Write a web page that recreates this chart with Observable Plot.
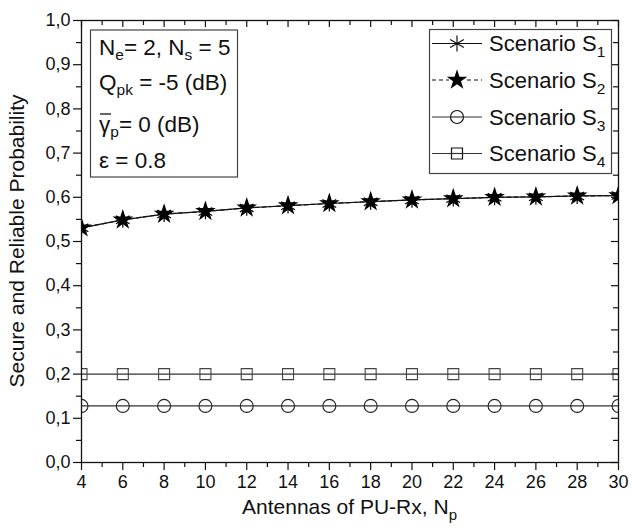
<!DOCTYPE html>
<html>
<head>
<meta charset="utf-8">
<script src="https://cdn.jsdelivr.net/npm/d3@7"></script>
<script src="https://cdn.jsdelivr.net/npm/@observablehq/plot@0.6"></script>
<style>
  html, body { margin: 0; padding: 0; background: #fff; }
  svg { font-family: "Liberation Sans", Arial, sans-serif; }
</style>
</head>
<body>
<div id="chart"></div>
<script>
// ---- data ----
const Np = [4, 6, 8, 10, 12, 14, 16, 18, 20, 22, 24, 26, 28, 30];
const scenarioS1 = [0.531, 0.549, 0.562, 0.568, 0.576, 0.581, 0.586, 0.590, 0.594, 0.597, 0.600, 0.601, 0.603, 0.604];
const scenarioS2 = [0.531, 0.549, 0.562, 0.568, 0.576, 0.581, 0.586, 0.590, 0.594, 0.597, 0.600, 0.601, 0.603, 0.604];
const scenarioS3 = [0.128, 0.128, 0.128, 0.128, 0.128, 0.128, 0.128, 0.128, 0.128, 0.128, 0.128, 0.128, 0.128, 0.128];
const scenarioS4 = [0.200, 0.200, 0.200, 0.200, 0.200, 0.200, 0.200, 0.200, 0.200, 0.200, 0.200, 0.200, 0.200, 0.200];
const xMajorTicks = [4, 6, 8, 10, 12, 14, 16, 18, 20, 22, 24, 26, 28, 30];
const xMinorTicks = [5, 7, 9, 11, 13, 15, 17, 19, 21, 23, 25, 27, 29];
const yMajorTicks = [0, 0.1, 0.2, 0.3, 0.4, 0.5, 0.6, 0.7, 0.8, 0.9, 1.0];
const yMinorTicks = [0.05, 0.15, 0.25, 0.35, 0.45, 0.55, 0.65, 0.75, 0.85, 0.95];
const legendNames = ["1", "2", "3", "4"];

const toRows = (vals) => Np.map((n, i) => ({x: n, y: vals[i]}));
const d1 = toRows(scenarioS1), d2 = toRows(scenarioS2), d3r = toRows(scenarioS3), d4 = toRows(scenarioS4);

const W = 632, H = 528;
const mL = 81, mR = 14, mT = 20, mB = 66;
const plotW = W - mL - mR, plotH = H - mT - mB;
const fmt = d => d.toFixed(1).replace(".", ",");

const chart = Plot.plot({
  width: W, height: H,
  marginLeft: mL, marginRight: mR, marginTop: mT, marginBottom: mB,
  style: {fontFamily: "Liberation Sans, Arial, sans-serif", background: "#fff", color: "#111"},
  x: {domain: [4, 30]},
  y: {domain: [0, 1]},
  marks: [
    Plot.axisX({ticks: xMajorTicks, tickSize: 8, tickPadding: 5, fontSize: 18, label: null, tickFormat: d => String(d), strokeWidth: 1.2}),
    Plot.axisX({ticks: xMinorTicks, tickSize: 5, label: null, tickFormat: () => "", strokeWidth: 1.2}),
    Plot.axisY({ticks: yMajorTicks, tickSize: 8, tickPadding: 3, fontSize: 18, label: null, tickFormat: fmt, strokeWidth: 1.2}),
    Plot.axisY({ticks: yMinorTicks, tickSize: 5, label: null, tickFormat: () => "", strokeWidth: 1.2}),
    // inward ticks on top and right
    Plot.tickX(xMajorTicks, {x: d => d, insetBottom: plotH - 7, stroke: "#111", strokeWidth: 1.2}),
    Plot.tickX(xMinorTicks, {x: d => d, insetBottom: plotH - 5, stroke: "#111", strokeWidth: 1.2}),
    Plot.tickY(yMajorTicks, {y: d => d, insetLeft: plotW - 7, stroke: "#111", strokeWidth: 1.2}),
    Plot.tickY(yMinorTicks, {y: d => d, insetLeft: plotW - 5, stroke: "#111", strokeWidth: 1.2}),
    // series
    Plot.line(d4, {x: "x", y: "y", stroke: "#333", strokeWidth: 1.2, clip: true}),
    Plot.line(d3r, {x: "x", y: "y", stroke: "#333", strokeWidth: 1.2, clip: true}),
    Plot.line(d1, {x: "x", y: "y", stroke: "#111", strokeWidth: 1.2, clip: true}),
    Plot.line(d2, {x: "x", y: "y", stroke: "#111", strokeWidth: 1.2, strokeDasharray: "4,3", clip: true}),
    Plot.dot(d4, {x: "x", y: "y", symbol: "square", r: 6.2, stroke: "#444", strokeWidth: 1.1, fill: "none", clip: true}),
    Plot.dot(d3r, {x: "x", y: "y", symbol: "circle", r: 6.5, stroke: "#222", strokeWidth: 1.1, fill: "none", clip: true}),
    Plot.dot(d2, {x: "x", y: "y", symbol: "star", r: 6.5, fill: "#000", stroke: "none", clip: true}),
    Plot.dot(d1, {x: "x", y: "y", symbol: "asterisk", r: 7.5, stroke: "#000", strokeWidth: 1.2, fill: "none", clip: true}),
    Plot.frame({stroke: "#111", strokeWidth: 1.3})
  ]
});

document.getElementById("chart").appendChild(chart);

const svg = d3.select(chart);
const font = "Liberation Sans, Arial, sans-serif";

// axis titles
const xt = svg.append("text").attr("x", mL + plotW / 2).attr("y", 514)
  .attr("text-anchor", "middle").attr("font-size", 21).attr("font-family", font).attr("fill", "#111");
xt.append("tspan").text("Antennas of PU-Rx, N");
xt.append("tspan").attr("font-size", 15).attr("dy", 6).text("p");

svg.append("text").attr("transform", `translate(24,${mT + plotH / 2}) rotate(-90)`)
  .attr("text-anchor", "middle").attr("font-size", 21).attr("font-family", font).attr("fill", "#111")
  .text("Secure and Reliable Probability");

// annotation box
const ann = svg.append("g").attr("font-family", font).attr("fill", "#111").attr("text-anchor", "start");
ann.append("rect").attr("x", 90.5).attr("y", 30).attr("width", 147).attr("height", 147)
  .attr("fill", "#fff").attr("stroke", "#444").attr("stroke-width", 1.2);
const fs = 22.5, ss = 15.5;
const l1 = ann.append("text").attr("x", 99).attr("y", 55).attr("font-size", fs);
l1.append("tspan").text("N");
l1.append("tspan").attr("font-size", ss).attr("dy", 5).text("e");
l1.append("tspan").attr("dy", -5).text("= 2, N");
l1.append("tspan").attr("font-size", ss).attr("dy", 5).text("s");
l1.append("tspan").attr("dy", -5).text(" = 5");
const l2 = ann.append("text").attr("x", 99).attr("y", 90).attr("font-size", fs);
l2.append("tspan").text("Q");
l2.append("tspan").attr("font-size", ss).attr("dy", 5).text("pk");
l2.append("tspan").attr("dy", -5).text(" = -5 (dB)");
const l3 = ann.append("text").attr("x", 99).attr("y", 132).attr("font-size", fs);
l3.append("tspan").text("γ");
l3.append("tspan").attr("font-size", ss).attr("dy", 5).text("p");
l3.append("tspan").attr("dy", -5).text("= 0 (dB)");
ann.append("line").attr("x1", 100).attr("x2", 111).attr("y1", 114).attr("y2", 114).attr("stroke", "#111").attr("stroke-width", 1.3);
ann.append("text").attr("x", 99).attr("y", 168).attr("font-size", fs).text("ε = 0.8");

// legend
const lg = svg.append("g").attr("font-family", font).attr("fill", "#111").attr("text-anchor", "start");
lg.append("rect").attr("x", 429.5).attr("y", 29.5).attr("width", 182).attr("height", 144)
  .attr("fill", "#fff").attr("stroke", "#444").attr("stroke-width", 1.2);
const legY = [43.5, 80, 117, 153.5];
const symSize = r => Math.PI * r * r;
legendNames.forEach((name, i) => {
  const y = legY[i];
  lg.append("line").attr("x1", 432).attr("x2", 482).attr("y1", y).attr("y2", y)
    .attr("stroke", i < 2 ? "#111" : "#333").attr("stroke-width", 1.2)
    .attr("stroke-dasharray", i === 1 ? "4,3" : null);
  let sym, fill = "#fff", stroke = "#111";
  if (i === 0) { sym = d3.symbol(d3.symbolAsterisk, symSize(7.5)); fill = "none"; }
  if (i === 1) { sym = d3.symbol(d3.symbolStar, symSize(6.5)); fill = "#000"; stroke = "none"; }
  if (i === 2) sym = d3.symbol(d3.symbolCircle, symSize(6.5));
  if (i === 3) sym = d3.symbol(d3.symbolSquare, symSize(6.2));
  if (i === 1) {
    lg.append("rect").attr("x", 449).attr("y", y - 3).attr("width", 16).attr("height", 6).attr("fill", "#fff");
  }
  lg.append("path").attr("d", sym()).attr("transform", `translate(457,${y})`)
    .attr("fill", fill).attr("stroke", stroke).attr("stroke-width", 1.2);
  if (i === 2 || i === 3) {
    lg.append("line").attr("x1", 450).attr("x2", 464).attr("y1", y).attr("y2", y).attr("stroke", "#333").attr("stroke-width", 1.2);
  }
  const t = lg.append("text").attr("x", 489).attr("y", y + 7.5).attr("font-size", 22);
  t.append("tspan").text("Scenario S");
  t.append("tspan").attr("font-size", 15.5).attr("dy", 6).text(name);
});
</script>
</body>
</html>
